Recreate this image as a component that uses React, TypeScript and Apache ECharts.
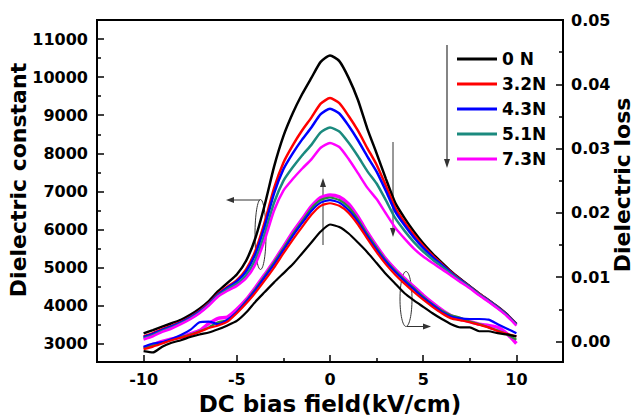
import React, { useEffect, useRef } from 'react';
import * as echarts from 'echarts';

// DC bias field (kV/cm)
const X = [-10, -9.5, -9, -8.5, -8, -7.5, -7, -6.5, -6, -5.5, -5, -4.5, -4, -3.5, -3, -2.5, -2, -1.5, -1, -0.5, 0,
  0.5, 1, 1.5, 2, 2.5, 3, 3.5, 4, 4.5, 5, 5.5, 6, 6.5, 7, 7.5, 8, 8.5, 9, 9.5, 10];

const NAMES = ['0 N', '3.2N', '4.3N', '5.1N', '7.3N'];
const COLORS = ['#000000', '#ff0000', '#0000ff', '#1b8a7e', '#ff00ff'];
const LOSS_COLORS = ['#000000', '#ff0000', '#0000ff', '#2e8b3a', '#ff00ff'];

// Dielectric constant (left axis)
const eps0 = [3275, 3360, 3450, 3540, 3630, 3760, 3920, 4120, 4380, 4600, 4820, 5180, 5780, 6650, 7650, 8450, 9050, 9550, 9980, 10400, 10570,
  10420, 9980, 9400, 8650, 8000, 7330, 6700, 6300, 5950, 5640, 5370, 5130, 4900, 4700, 4510, 4320, 4150, 3970, 3770, 3525];
const eps32 = [3197, 3282, 3383, 3473, 3574, 3704, 3864, 4064, 4313, 4499, 4674, 4956, 5444, 6202, 7090, 7756, 8210, 8598, 8938, 9302, 9450,
  9316, 8979, 8594, 8138, 7700, 7148, 6570, 6192, 5860, 5570, 5320, 5096, 4878, 4684, 4500, 4311, 4141, 3961, 3761, 3516];
const eps43 = [3177, 3262, 3366, 3456, 3560, 3690, 3850, 4050, 4296, 4474, 4638, 4900, 5360, 6090, 6950, 7582, 8000, 8360, 8678, 9028, 9170,
  9045, 8723, 8344, 7921, 7520, 7011, 6472, 6111, 5792, 5517, 5282, 5070, 4861, 4672, 4492, 4304, 4134, 3954, 3754, 3509];
const eps51 = [3143, 3228, 3337, 3427, 3535, 3665, 3825, 4025, 4267, 4430, 4574, 4802, 5213, 5894, 6705, 7278, 7632, 7943, 8222, 8548, 8680,
  8572, 8276, 7922, 7534, 7208, 6766, 6297, 5965, 5671, 5423, 5215, 5025, 4832, 4650, 4479, 4291, 4121, 3941, 3741, 3496];
const eps73 = [3114, 3199, 3312, 3402, 3515, 3645, 3805, 4005, 4242, 4393, 4521, 4720, 5090, 5730, 6500, 7024, 7325, 7595, 7841, 8146, 8270,
  8166, 7850, 7480, 7100, 6800, 6420, 6050, 5760, 5500, 5290, 5120, 4960, 4790, 4620, 4460, 4274, 4104, 3924, 3724, 3479];

// Dielectric loss (right axis)
const loss0 = [-0.0015, -0.0017, -0.0008, -0.0002, 0.0002, 0.0007, 0.0011, 0.0014, 0.0019, 0.0025, 0.0032, 0.0045, 0.0062, 0.0077, 0.0092, 0.0106, 0.012, 0.0137, 0.0154, 0.0171, 0.0182,
  0.0178, 0.0168, 0.0154, 0.0139, 0.0122, 0.0105, 0.009, 0.0075, 0.0064, 0.0054, 0.0044, 0.0035, 0.0027, 0.0022, 0.0022, 0.0016, 0.0016, 0.0013, 0.0011, 0.0008];
const loss32 = [-0.0012, -0.0008, -0.0003, 0.0002, 0.0006, 0.001, 0.0015, 0.0021, 0.0025, 0.0031, 0.0044, 0.0059, 0.0076, 0.0095, 0.0115, 0.0137, 0.0158, 0.0178, 0.0197, 0.0211, 0.0215,
  0.0211, 0.02, 0.0182, 0.016, 0.0139, 0.012, 0.0104, 0.009, 0.0077, 0.0065, 0.0054, 0.0044, 0.0036, 0.0033, 0.003, 0.0026, 0.0022, 0.0016, 0.0012, 0.0008];
const loss43 = [-0.0008, -0.0003, -0.0001, 0.0004, 0.001, 0.0018, 0.003, 0.0031, 0.0027, 0.0034, 0.0046, 0.0062, 0.008, 0.01, 0.012, 0.0142, 0.0164, 0.0184, 0.0203, 0.0216, 0.022,
  0.0216, 0.0204, 0.0186, 0.0164, 0.0143, 0.0124, 0.0108, 0.0094, 0.0081, 0.0068, 0.0057, 0.0046, 0.0039, 0.0036, 0.0035, 0.0035, 0.0034, 0.0027, 0.002, 0.0013];
const loss51 = [-0.001, -0.0006, -0.0002, 0.0003, 0.0007, 0.0011, 0.0016, 0.0022, 0.003, 0.0033, 0.0046, 0.0063, 0.0082, 0.0102, 0.0123, 0.0145, 0.0167, 0.0187, 0.0207, 0.022, 0.0224,
  0.022, 0.0209, 0.019, 0.0167, 0.0146, 0.0126, 0.011, 0.0096, 0.0083, 0.007, 0.0058, 0.0048, 0.0041, 0.0037, 0.0031, 0.0027, 0.0022, 0.0017, 0.0011, 0.0003];
const loss73 = [-0.001, -0.0005, 0.0, 0.0004, 0.0007, 0.0012, 0.0017, 0.0028, 0.0036, 0.0038, 0.005, 0.0065, 0.0084, 0.0104, 0.0125, 0.0147, 0.017, 0.019, 0.021, 0.0224, 0.0228,
  0.0225, 0.0214, 0.0194, 0.017, 0.0148, 0.0128, 0.0112, 0.0098, 0.0085, 0.0072, 0.006, 0.0049, 0.004, 0.0035, 0.0031, 0.0027, 0.0025, 0.0022, 0.0012, -0.0003];

const X_LABELS = [-10, -5, 0, 5, 10];
const X_MINOR = [-7.5, -2.5, 2.5, 7.5];
const EPS_LABELS = [3000, 4000, 5000, 6000, 7000, 8000, 9000, 10000, 11000];
const EPS_MINOR = [3500, 4500, 5500, 6500, 7500, 8500, 9500, 10500];
const LOSS_LABELS = [0, 0.01, 0.02, 0.03, 0.04, 0.05];
const LOSS_MINOR = [0.005, 0.015, 0.025, 0.035, 0.045];

const X_TITLE = 'DC bias field(kV/cm)';
const Y_TITLE = 'Dielectric constant';
const Y2_TITLE = 'Dielectric loss';

const FONT = 'DejaVu Sans';

export default function App() {
  const ref = useRef<HTMLDivElement>(null);
  useEffect(() => {
    const chart = echarts.init(ref.current!, null, { renderer: 'svg' });
    const zip = (ys: number[]) => X.map((x, i) => [x, ys[i]]);
    const labelStyle = { fontFamily: FONT, fontWeight: 'bold' as const, fontSize: 16, color: '#000' };
    const nameStyle = { fontFamily: FONT, fontWeight: 'bold' as const, fontSize: 23, color: '#000' };
    const XMIN = -12.5, XMAX = 12.5, YMIN = 2520, YMAX = 11500, LMIN = -0.0032, LMAX = 0.05;

    const epsSets = [eps0, eps32, eps43, eps51, eps73];
    const lossSets = [loss0, loss32, loss43, loss51, loss73];
    const lossOrder = [4, 3, 2, 1, 0];

    const series: any[] = [];
    epsSets.forEach((d, i) => series.push({
      name: NAMES[i], type: 'line', xAxisIndex: 0, yAxisIndex: 0, data: zip(d), smooth: 0.2,
      symbol: 'none', lineStyle: { color: COLORS[i], width: 2.5 }, itemStyle: { color: COLORS[i] },
    }));
    lossOrder.forEach((i) => series.push({
      name: NAMES[i], type: 'line', xAxisIndex: 0, yAxisIndex: 2, data: zip(lossSets[i]), smooth: 0.2,
      symbol: 'none', lineStyle: { color: LOSS_COLORS[i], width: i === 4 ? 3.5 : 2.2 }, itemStyle: { color: COLORS[i] },
    }));

    const minorAxis = (min: number, max: number, pos: string, values: number[]) => ({
      type: 'value', min, max, position: pos,
      axisLine: { show: false, onZero: false },
      axisTick: { show: true, inside: true, length: 4, customValues: values, lineStyle: { color: '#000', width: 1.5 } },
      axisLabel: { show: false }, splitLine: { show: false },
    });

    const ann = '#333';
    const option: any = {
      animation: false,
      backgroundColor: '#fff',
      grid: { left: 97, right: 77, top: 20, bottom: 54, show: true, borderColor: '#000', borderWidth: 2 },
      legend: {
        data: NAMES, orient: 'vertical', left: 452, top: 44, itemWidth: 40, itemHeight: 3, itemGap: 5,
        icon: 'rect', selectedMode: false,
        textStyle: { fontFamily: FONT, fontWeight: 'bold', fontSize: 17, lineHeight: 20, color: '#000' },
      },
      xAxis: [
        {
          type: 'value', min: XMIN, max: XMAX, position: 'bottom',
          axisLine: { show: true, onZero: false, lineStyle: { color: '#000', width: 2 } },
          axisTick: { show: true, inside: true, length: 7, customValues: X_LABELS, lineStyle: { color: '#000', width: 1.5 } },
          axisLabel: { customValues: X_LABELS, margin: 9, formatter: (v: number) => String(v), ...labelStyle },
          splitLine: { show: false },
          name: X_TITLE, nameLocation: 'middle', nameGap: 29, nameTextStyle: nameStyle,
        },
        minorAxis(XMIN, XMAX, 'bottom', X_MINOR),
      ],
      yAxis: [
        {
          type: 'value', min: YMIN, max: YMAX, position: 'left',
          axisLine: { show: true, onZero: false, lineStyle: { color: '#000', width: 2 } },
          axisTick: { show: true, inside: true, length: 7, customValues: EPS_LABELS, lineStyle: { color: '#000', width: 1.5 } },
          axisLabel: { customValues: EPS_LABELS, margin: 9, formatter: (v: number) => String(v), ...labelStyle },
          splitLine: { show: false },
        },
        minorAxis(YMIN, YMAX, 'left', EPS_MINOR),
        {
          type: 'value', min: LMIN, max: LMAX, position: 'right',
          axisLine: { show: true, onZero: false, lineStyle: { color: '#000', width: 2 } },
          axisTick: { show: true, inside: true, length: 7, customValues: LOSS_LABELS, lineStyle: { color: '#000', width: 1.5 } },
          axisLabel: { customValues: LOSS_LABELS, margin: 8, formatter: (v: number) => v.toFixed(2), ...labelStyle },
          splitLine: { show: false },
        },
        minorAxis(LMIN, LMAX, 'right', LOSS_MINOR),
      ],
      series,
      graphic: [
        { type: 'text', silent: true, x: 18, y: 180, rotation: Math.PI / 2, style: { text: Y_TITLE, align: 'center', verticalAlign: 'middle', font: `bold 22px "${FONT}"`, fill: '#000' } },
        { type: 'text', silent: true, x: 622, y: 185, rotation: Math.PI / 2, style: { text: Y2_TITLE, align: 'center', verticalAlign: 'middle', font: `bold 22px "${FONT}"`, fill: '#000' } },
        { type: 'ellipse', silent: true, shape: { cx: 260.5, cy: 234.5, rx: 5.5, ry: 35 }, style: { fill: 'none', stroke: ann, lineWidth: 1 } },
        { type: 'line', silent: true, shape: { x1: 260, y1: 200, x2: 231, y2: 200 }, style: { stroke: ann, lineWidth: 1 } },
        { type: 'polygon', silent: true, shape: { points: [[226, 200], [234, 197], [234, 203]] }, style: { fill: ann } },
        { type: 'line', silent: true, shape: { x1: 323, y1: 245, x2: 323, y2: 184 }, style: { stroke: ann, lineWidth: 1 } },
        { type: 'polygon', silent: true, shape: { points: [[323, 178], [320, 187], [326, 187]] }, style: { fill: ann } },
        { type: 'line', silent: true, shape: { x1: 393, y1: 142, x2: 393, y2: 231 }, style: { stroke: ann, lineWidth: 1 } },
        { type: 'polygon', silent: true, shape: { points: [[393, 237], [390, 228], [396, 228]] }, style: { fill: ann } },
        { type: 'ellipse', silent: true, shape: { cx: 406, cy: 299, rx: 6, ry: 27.5 }, style: { fill: 'none', stroke: ann, lineWidth: 1 } },
        { type: 'line', silent: true, shape: { x1: 407, y1: 326.5, x2: 425, y2: 326.5 }, style: { stroke: ann, lineWidth: 1 } },
        { type: 'polygon', silent: true, shape: { points: [[431, 326.5], [423, 323.5], [423, 329.5]] }, style: { fill: ann } },
        { type: 'line', silent: true, shape: { x1: 447, y1: 45, x2: 447, y2: 162 }, style: { stroke: ann, lineWidth: 1.2 } },
        { type: 'polygon', silent: true, shape: { points: [[447, 168], [444, 159], [450, 159]] }, style: { fill: ann } },
      ],
    };
    chart.setOption(option);
    return () => chart.dispose();
  }, []);
  return <div ref={ref} style={{ position: 'absolute', left: 0, top: 0, width: 640, height: 420, background: '#fff' }} />;
}
